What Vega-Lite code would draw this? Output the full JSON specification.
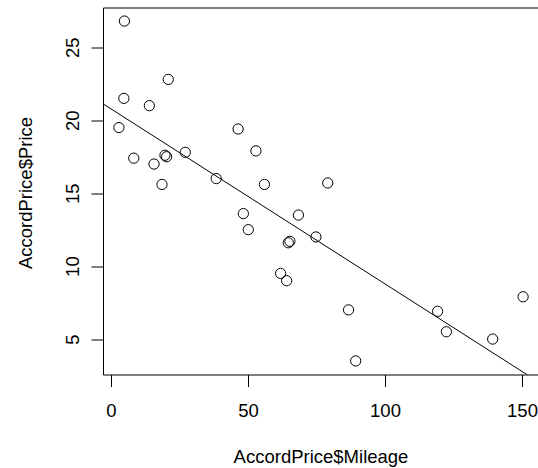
{
  "$schema": "https://vega.github.io/schema/vega-lite/v6.json",
  "width": 435,
  "height": 367,
  "autosize": {"type": "none"},
  "padding": {"left": 103, "top": 7.5, "right": 0, "bottom": 93.5},
  "background": "white",
  "config": {
    "view": {"stroke": null},
    "font": "Liberation Sans",
    "axis": {
      "domainColor": "black",
      "domainWidth": 1,
      "tickColor": "black",
      "tickWidth": 1,
      "labelColor": "black",
      "titleColor": "black",
      "labelFont": "Liberation Sans",
      "titleFont": "Liberation Sans",
      "labelFontSize": 18.5,
      "titleFontSize": 18.5,
      "titleFontWeight": "normal",
      "grid": false
    }
  },
  "datasets": {
    "cars": [
      {"Mileage": 4.9, "Price": 26.8},
      {"Mileage": 4.7, "Price": 21.5},
      {"Mileage": 20.9, "Price": 22.8},
      {"Mileage": 14.0, "Price": 21.0},
      {"Mileage": 2.9, "Price": 19.5},
      {"Mileage": 8.3, "Price": 17.4},
      {"Mileage": 15.7, "Price": 17.0},
      {"Mileage": 19.7, "Price": 17.6},
      {"Mileage": 20.3, "Price": 17.5},
      {"Mileage": 18.6, "Price": 15.6},
      {"Mileage": 27.1, "Price": 17.8},
      {"Mileage": 38.4, "Price": 16.0},
      {"Mileage": 46.4, "Price": 19.4},
      {"Mileage": 52.9, "Price": 17.9},
      {"Mileage": 56.0, "Price": 15.6},
      {"Mileage": 48.3, "Price": 13.6},
      {"Mileage": 50.1, "Price": 12.5},
      {"Mileage": 79.1, "Price": 15.7},
      {"Mileage": 68.4, "Price": 13.5},
      {"Mileage": 74.8, "Price": 12.0},
      {"Mileage": 64.7, "Price": 11.6},
      {"Mileage": 65.3, "Price": 11.7},
      {"Mileage": 61.9, "Price": 9.5},
      {"Mileage": 64.1, "Price": 9.0},
      {"Mileage": 86.7, "Price": 7.0},
      {"Mileage": 89.3, "Price": 3.5},
      {"Mileage": 119.2, "Price": 6.9},
      {"Mileage": 122.4, "Price": 5.5},
      {"Mileage": 139.3, "Price": 5.0},
      {"Mileage": 150.4, "Price": 7.9}
    ],
    "fit": [
      {"x1": -2.92, "y1": 21.13, "x2": 155.84, "y2": 2.08}
    ]
  },
  "layer": [
    {
      "data": {"name": "cars"},
      "mark": {"type": "point", "shape": "circle", "filled": false, "stroke": "black", "strokeWidth": 1, "size": 105, "opacity": 1},
      "encoding": {
        "x": {
          "field": "Mileage", "type": "quantitative",
          "scale": {"domain": [-2.92, 155.84], "nice": false, "zero": false},
          "axis": {"orient": "bottom", "values": [0, 50, 100, 150], "tickSize": 12, "labelBaseline": "alphabetic", "labelPadding": 30, "title": "AccordPrice$Mileage", "titleBaseline": "alphabetic", "titleY": 88.4, "labelFlush": false, "labelOverlap": false}
        },
        "y": {
          "field": "Price", "type": "quantitative",
          "scale": {"domain": [2.57, 27.73], "nice": false, "zero": false},
          "axis": {"orient": "left", "values": [5, 10, 15, 20, 25], "tickSize": 12, "labelAngle": -90, "labelAlign": "center", "labelBaseline": "alphabetic", "labelPadding": 12.5, "title": "AccordPrice$Price", "titleBaseline": "alphabetic", "titleX": -71.3, "titleY": 185, "labelFlush": false, "labelOverlap": false}
        }
      }
    },
    {
      "data": {"name": "fit"},
      "mark": {"type": "rule", "color": "black", "strokeWidth": 1, "clip": true},
      "encoding": {
        "x": {"field": "x1", "type": "quantitative", "axis": {"orient": "top", "ticks": false, "labels": false, "title": null, "domain": true}},
        "y": {"field": "y1", "type": "quantitative", "axis": null},
        "x2": {"field": "x2"},
        "y2": {"field": "y2"}
      }
    }
  ],
  "resolve": {"axis": {"x": "independent", "y": "independent"}}
}
